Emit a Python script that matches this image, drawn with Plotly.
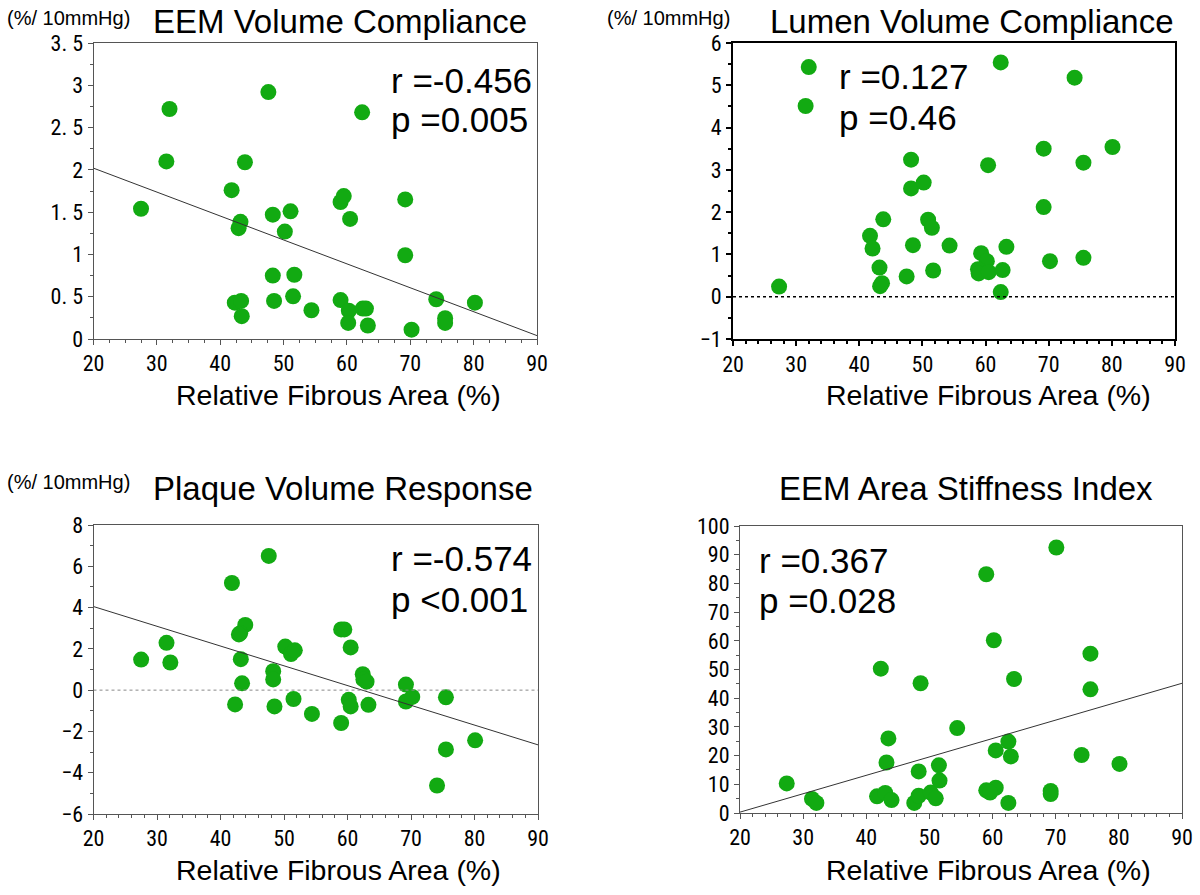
import plotly.graph_objects as go
from plotly.subplots import make_subplots

# --- EEM Volume Compliance ---
eem_x = [27.5, 31.5, 32.0, 47.6, 43.9, 41.8, 43.2, 42.9, 48.3, 51.1, 50.2, 59.0,
         59.5, 60.5, 62.4, 69.2, 69.2, 48.3, 51.7, 42.3, 43.3, 43.4, 48.5, 51.5,
         54.4, 59.0, 60.3, 60.2, 62.5, 63.0, 63.3, 70.2, 74.1, 75.5, 75.5, 80.2]
eem_y = [1.54, 2.10, 2.72, 2.92, 2.09, 1.76, 1.385, 1.31, 1.47, 1.51, 1.27, 1.62,
         1.69, 1.42, 2.68, 1.65, 0.99, 0.75, 0.76, 0.43, 0.45, 0.27, 0.45, 0.505,
         0.34, 0.46, 0.335, 0.19, 0.36, 0.36, 0.16, 0.11, 0.47, 0.245, 0.19, 0.43]
eem_fit = [2.02, 0.04]

# --- Lumen Volume Compliance ---
lumen_x = [32.0, 31.5, 62.4, 74.1, 48.2, 48.2, 50.2, 60.4, 69.2, 75.5, 80.1, 69.2,
           43.8, 41.7, 42.1, 50.9, 51.5, 48.5, 54.3, 59.3, 60.2, 63.3, 43.2, 47.5,
           51.7, 58.8, 58.9, 60.5, 62.7, 70.2, 75.5, 43.3, 43.6, 27.3, 62.4]
lumen_y = [5.43, 4.51, 5.54, 5.18, 3.24, 2.56, 2.70, 3.11, 3.50, 3.17, 3.54, 2.12,
           1.83, 1.44, 1.14, 1.82, 1.63, 1.22, 1.21, 1.03, 0.84, 1.18, 0.69, 0.48,
           0.62, 0.65, 0.55, 0.58, 0.63, 0.84, 0.92, 0.25, 0.32, 0.24, 0.11]

# --- Plaque Volume Response ---
plaque_x = [27.5, 31.5, 32.1, 47.6, 41.8, 43.9, 43.1, 42.9, 43.2, 43.4, 42.3, 50.2,
            51.1, 51.7, 48.3, 48.3, 48.5, 51.5, 54.4, 59.0, 59.5, 60.5, 59.0, 60.2,
            60.5, 62.4, 62.5, 63.0, 63.3, 69.2, 69.2, 70.2, 75.5, 75.5, 74.1, 80.1]
plaque_y = [1.48, 2.29, 1.34, 6.50, 5.19, 3.16, 2.76, 2.70, 1.50, 0.33, -0.69, 2.11,
            1.75, 1.93, 0.92, 0.52, -0.79, -0.43, -1.15, 2.94, 2.94, 2.07, -1.59, -0.47,
            -0.79, 0.77, 0.52, 0.41, -0.71, 0.27, -0.55, -0.33, -0.35, -2.87, -4.62, -2.43]
plaque_fit = [4.05, -2.65]

# --- EEM Area Stiffness Index ---
stiff_x = [27.4, 31.4, 32.1, 42.3, 43.5, 43.2, 41.7, 43.0, 44.0, 48.6, 48.3, 47.6,
           48.3, 50.2, 51.0, 51.5, 51.6, 54.4, 59.0, 60.2, 60.5, 60.5, 59.0, 59.6,
           62.5, 62.9, 63.4, 62.5, 70.1, 69.2, 69.2, 74.1, 75.5, 75.5, 80.1]
stiff_y = [10.3, 4.9, 3.5, 50.3, 26.0, 17.6, 5.8, 7.0, 4.5, 45.2, 14.5, 3.5,
           6.0, 7.1, 5.1, 16.6, 11.3, 29.6, 83.2, 60.2, 21.8, 8.8, 7.9, 7.1,
           24.9, 19.7, 46.7, 3.5, 92.5, 7.7, 6.6, 20.2, 55.5, 43.1, 17.1]
stiff_fit = [0.3, 45.2]

fit_x = [20, 90]

GREEN = "rgb(18,170,18)"
TEXT_FONT = "Liberation Sans, Arial, sans-serif"
TICK_FONT = "Liberation Sans Narrow, Roboto Condensed, DejaVu Sans Condensed, sans-serif"

W, H = 1200, 895


def px_x(v):
    return v / W


def px_y(v):
    return 1 - v / H


fig = make_subplots(rows=2, cols=2)

panels = [
    # (row, col, x, y, fit, x-domain px, y-domain px)
    (1, 1, eem_x, eem_y, eem_fit, (93.5, 537), (339, 43)),
    (1, 2, lumen_x, lumen_y, None, (733, 1175), (339, 43)),
    (2, 1, plaque_x, plaque_y, plaque_fit, (93.5, 538), (814, 525)),
    (2, 2, stiff_x, stiff_y, stiff_fit, (740, 1182), (813, 526)),
]

for row, col, xs, ys, fit, xd, yd in panels:
    fig.add_trace(go.Scatter(x=xs, y=ys, mode="markers",
                             marker=dict(color=GREEN, size=16, line=dict(width=0)),
                             showlegend=False, hoverinfo="x+y"), row=row, col=col)
    if fit is not None:
        fig.add_trace(go.Scatter(x=fit_x, y=fit, mode="lines",
                                 line=dict(color="#333333", width=1),
                                 showlegend=False, hoverinfo="skip"), row=row, col=col)

# zero reference lines
fig.add_trace(go.Scatter(x=fit_x, y=[0, 0], mode="lines",
                         line=dict(color="black", width=1.5, dash="dot"),
                         showlegend=False, hoverinfo="skip"), row=1, col=2)
fig.add_trace(go.Scatter(x=fit_x, y=[0, 0], mode="lines",
                         line=dict(color="#888888", width=1, dash="dot"),
                         showlegend=False, hoverinfo="skip"), row=2, col=1)

y_settings = {
    (1, 1): dict(range=[0, 3.5], tickvals=[0, 0.5, 1, 1.5, 2, 2.5, 3, 3.5],
                 ticktext=["0", "0. 5", "1", "1. 5", "2", "2. 5", "3", "3. 5"],
                 minor=dict(dtick=0.25, ticklen=3, ticks="outside", tickcolor="#555")),
    (1, 2): dict(range=[-1, 6], tickvals=[-1, 0, 1, 2, 3, 4, 5, 6],
                 minor=dict(dtick=0.5, ticklen=3, ticks="outside", tickcolor="black")),
    (2, 1): dict(range=[-6, 8], tickvals=[-6, -4, -2, 0, 2, 4, 6, 8],
                 minor=dict(dtick=1, ticklen=3, ticks="outside", tickcolor="#555")),
    (2, 2): dict(range=[0, 100], tickvals=list(range(0, 101, 10)),
                 minor=dict(dtick=5, ticklen=3, ticks="outside", tickcolor="#555")),
}

for row, col, xs, ys, fit, xd, yd in panels:
    lc = "black" if (row, col) == (1, 2) else "#555555"
    lw = 2 if (row, col) == (1, 2) else 1
    common = dict(showgrid=False, zeroline=False, showline=True, linecolor=lc,
                  linewidth=lw, mirror=True, ticks="outside", ticklen=5,
                  tickcolor=lc, tickwidth=lw, automargin=False,
                  tickfont=dict(family=TICK_FONT, size=22, color="black"))
    fig.update_xaxes(domain=[px_x(xd[0]), px_x(xd[1])], range=[20, 90],
                     tickvals=[20, 30, 40, 50, 60, 70, 80, 90],
                     minor=dict(dtick=2.5 if (row, col) == (1, 1) else 2,
                                ticklen=3, ticks="outside", tickcolor=lc),
                     row=row, col=col, **common)
    fig.update_yaxes(domain=[px_y(yd[0]), px_y(yd[1])], row=row, col=col,
                     **common, **y_settings[(row, col)])

annotations = []


def note(text, x, y, size, xanchor="center"):
    annotations.append(dict(text=text, x=px_x(x), y=px_y(y), xref="paper", yref="paper",
                            xanchor=xanchor, yanchor="middle", showarrow=False,
                            borderpad=0,
                            font=dict(family=TEXT_FONT, size=size, color="black")))


# unit labels
note("(%/ 10mmHg)", 68, 18, 20)
note("(%/ 10mmHg)", 668, 18, 20)
note("(%/ 10mmHg)", 68, 482, 20)

# titles
note("EEM Volume Compliance", 340, 21, 33)
note("Lumen Volume Compliance", 972, 21, 33)
note("Plaque Volume Response", 343, 488, 33)
note("EEM Area Stiffness Index", 966, 488, 33)

# statistics
note("r =-0.456", 390, 80, 35, "left")
note("p =0.005", 390, 120, 35, "left")
note("r =0.127", 838, 77, 35, "left")
note("p =0.46", 838, 117, 35, "left")
note("r =-0.574", 390, 558, 35, "left")
note("p <0.001", 390, 599, 35, "left")
note("r =0.367", 758, 560, 35, "left")
note("p =0.028", 758, 600, 35, "left")

# x-axis titles
note("Relative Fibrous Area (%)", 338, 395, 28.5)
note("Relative Fibrous Area (%)", 988, 395, 28.5)
note("Relative Fibrous Area (%)", 338, 870, 28.5)
note("Relative Fibrous Area (%)", 988, 870, 28.5)

fig.update_layout(width=W, height=H, margin=dict(l=0, r=0, t=0, b=0),
                  plot_bgcolor="white", paper_bgcolor="white",
                  annotations=annotations, showlegend=False)

# drop the default body margin so the figure sits flush in the window
fig.write_html("out.html", config={"displayModeBar": False},
               post_script="document.body.style.margin = '0';")
